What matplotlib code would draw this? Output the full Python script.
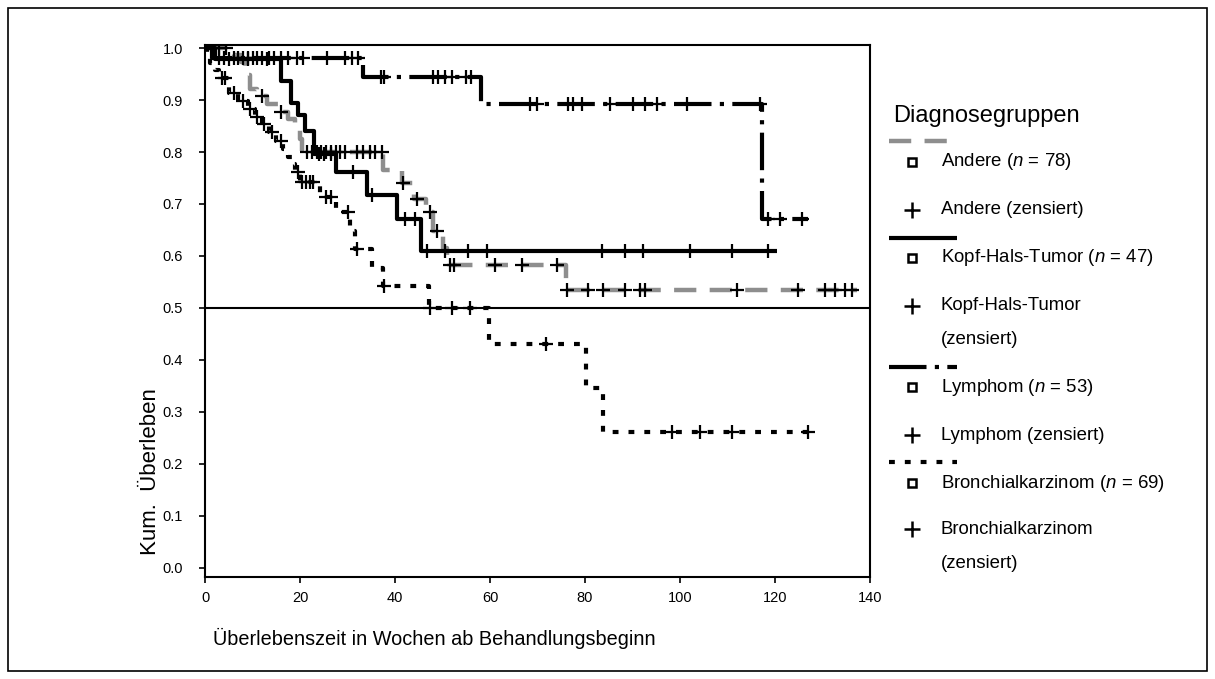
import numpy as np
import matplotlib.pyplot as plt
from matplotlib.patches import Rectangle

plt.rcParams['font.family'] = ['Liberation Sans', 'DejaVu Sans']
plt.rcParams['mathtext.fontset'] = 'custom'
plt.rcParams['mathtext.it'] = 'Liberation Sans:italic'
plt.rcParams['mathtext.rm'] = 'Liberation Sans'

# Andere (n = 78)
andere_t = [6, 7.5, 8.5, 9.5, 11, 13, 15.5, 17.5, 19, 20, 20.5, 37.5, 41.5, 44, 46.5, 48, 50, 51, 76]
andere_s = [0.987, 0.974, 0.948, 0.921, 0.907, 0.893, 0.878, 0.864, 0.85, 0.825, 0.80, 0.766,
            0.74, 0.709, 0.684, 0.648, 0.615, 0.583, 0.534]
andere_end = 137.3
andere_cens = [1.5, 3, 4.5, 12, 16, 21.5, 22.5, 23.5, 24.5, 25.5, 26.5, 27.5, 28.5, 29.5, 32,
               33.3, 34.7, 35.8, 37.3, 41.7, 44.6, 47.4, 48.8, 51.6, 52.5, 61, 66.7, 74, 76.2,
               80.6, 83.8, 88.4, 91.6, 92.6, 112, 124.8, 130.5, 132.6, 134.7, 136.2]

# Kopf-Hals-Tumor (n = 47)
kht_t = [2, 16, 18, 19.5, 21, 23, 27.5, 34, 40.5, 45.5]
kht_s = [0.979, 0.936, 0.894, 0.872, 0.84, 0.797, 0.762, 0.718, 0.671, 0.609]
kht_end = 120.4
kht_cens = [5, 9, 13, 24, 25, 26.5, 31.2, 35.2, 42.1, 44.2, 46.7, 50.5, 55.4, 59.4, 83.6,
            88.4, 92.2, 102.1, 110.9, 118.5]

# Lymphom (n = 53)
lym_t = [1.5, 33.3, 58, 117.2]
lym_s = [0.981, 0.944, 0.893, 0.671]
lym_end = 127
lym_cens = [3, 4, 6, 7, 8, 9, 10, 11, 12, 13.5, 14.5, 16, 17.5, 19.4, 20.6, 25.7, 29.5, 31,
            32.2, 37, 37.6, 48, 49, 50.5, 52, 55, 56, 68.4, 69.9, 76.4, 77.5, 79.4, 85.3, 90.1,
            92.6, 95.2, 101.5, 116.8, 118.5, 121, 125.7]

# Bronchialkarzinom (n = 69)
br_t = [0.5, 1, 2, 3, 5, 7, 9, 10.5, 12, 13.5, 15, 16.5, 17.5, 18.3, 19, 20, 24.3, 27.5, 30.5,
        31.5, 35.2, 37.5, 47.2, 59.8, 80.2, 83.8]
br_s = [0.985, 0.971, 0.957, 0.942, 0.913, 0.898, 0.883, 0.868, 0.853, 0.838, 0.822, 0.806,
        0.79, 0.776, 0.761, 0.742, 0.714, 0.684, 0.648, 0.614, 0.577, 0.543, 0.50, 0.43,
        0.346, 0.261]
br_end = 127
br_cens = [3.5, 4.2, 6, 8, 9.5, 11, 12.5, 14, 16, 19.6, 20.5, 21.3, 22, 22.7, 25.5, 26.5,
           30.1, 32, 37.6, 47.4, 52, 55.8, 71.8, 98.3, 104.2, 111, 127]

gray = '#8e8e8e'
andere_style = dict(color=gray, lw=3.2, ls=(0, (5, 3)))
kht_style = dict(color='black', lw=3, ls='-')
lym_style = dict(color='black', lw=3, ls=(0, (9, 2, 1, 2)))
br_style = dict(color='black', lw=3, ls=(0, (1.4, 2.4)))


def km(ax, t, s, end, cens, style):
    x = np.r_[0, t, end]
    y = np.r_[1.0, s, s[-1]]
    ax.step(x, y, where='post', solid_capstyle='butt', dash_capstyle='butt', **style)
    levels = np.r_[1.0, s]
    yc = levels[np.searchsorted(t, cens, side='right')]
    ax.plot(cens, yc, ls='none', marker='+', ms=10, mew=1.6, color='black', zorder=4)


fig = plt.figure(figsize=(12.15, 6.79), dpi=100)
ax = fig.add_axes([205 / 1215, 1 - 577 / 679, 665 / 1215, 532 / 679])

km(ax, andere_t, andere_s, andere_end, andere_cens, andere_style)
km(ax, kht_t, kht_s, kht_end, kht_cens, kht_style)
km(ax, lym_t, lym_s, lym_end, lym_cens, lym_style)
km(ax, br_t, br_s, br_end, br_cens, br_style)

ax.axhline(0.5, color='black', lw=1.5)
ax.set_xlim(0, 140)
ax.set_ylim(-0.018, 1.006)
ax.set_xticks(np.arange(0, 141, 20))
ax.set_yticks(np.arange(0, 1.01, 0.1))
ax.set_yticklabels([f'{v:.1f}' for v in np.arange(0, 1.01, 0.1)])
ax.tick_params(direction='out', length=4, width=1.2, labelsize=10.5, pad=6)
ax.tick_params(axis='y', pad=12)
for sp in ax.spines.values():
    sp.set_linewidth(1.5)

# overlay in pixel coordinates for labels, legend and frame
lax = fig.add_axes([0, 0, 1, 1])
lax.set_xlim(0, 1215)
lax.set_ylim(679, 0)
lax.axis('off')
lax.add_patch(Rectangle((8, 8), 1199, 663, fill=False, lw=1.2, ec='black'))

lax.text(150, 472, 'Kum.  Überleben', rotation=90, fontsize=16, ha='center', va='center')
lax.text(434, 638, 'Überlebenszeit in Wochen ab Behandlungsbeginn', fontsize=14.3,
         ha='center', va='center')

lax.text(893, 116, 'Diagnosegruppen', fontsize=17, ha='left', va='center')
groups = [
    (andere_style, 141, 'Andere ($n$ = 78)', 162, ['Andere (zensiert)'], 210),
    (kht_style, 238, 'Kopf-Hals-Tumor ($n$ = 47)', 258, ['Kopf-Hals-Tumor', '(zensiert)'], 306),
    (lym_style, 367, 'Lymphom ($n$ = 53)', 387, ['Lymphom (zensiert)'], 435),
    (br_style, 462, 'Bronchialkarzinom ($n$ = 69)', 483, ['Bronchialkarzinom', '(zensiert)'], 529),
]
for style, ly, label, ny, clabel, cy in groups:
    lax.plot([889, 957], [ly, ly], solid_capstyle='butt', dash_capstyle='butt', **style)
    lax.plot([912], [ny], marker='s', ms=6, mfc='white', mec='black', mew=1.8, ls='none')
    lax.text(941, ny, label, fontsize=13.4, ha='left', va='center')
    lax.plot([912], [cy], marker='+', ms=11, mew=1.8, color='black', ls='none')
    lax.text(941, cy, clabel[0], fontsize=13.4, ha='left', va='center')
    if len(clabel) > 1:
        lax.text(941, cy + 34, clabel[1], fontsize=13.4, ha='left', va='center')

fig.savefig('out.png', dpi=100)
